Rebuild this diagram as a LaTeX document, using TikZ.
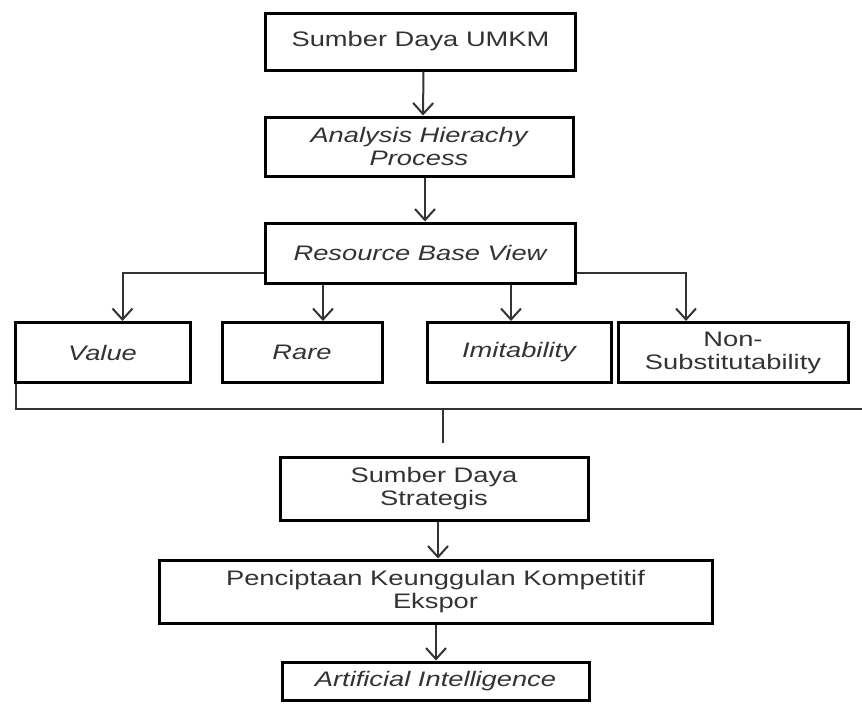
\documentclass[tikz,border=0pt]{standalone}
\usepackage{fontspec}
\setmainfont{Liberation Sans}[FakeStretch=1.3]
\usetikzlibrary{arrows.meta}
\tikzset{
  box/.style={draw=black, line width=3pt, fill=white, inner sep=0pt, align=center,
    text=black!80, font=\fontsize{21}{23}\selectfont},
  it/.style={font=\fontsize{21}{23}\selectfont\itshape},
  conn/.style={draw=black!80, line width=2pt},
  arr/.style={conn, -{Straight Barb[length=11pt, width=20pt, line width=2pt]}}
}
\begin{document}
\begin{tikzpicture}[x=1pt, y=-1pt]
\useasboundingbox (0,0) rectangle (862,704);
\node[box, minimum width=310pt, minimum height=57pt] (n1) at (420.5,41.5) {Sumber Daya UMKM};
\node[box, it, minimum width=308pt, minimum height=59pt] (n2) at (419,146.5) {Analysis Hierachy\\Process};
\node[box, it, minimum width=310pt, minimum height=60pt] (n3) at (420,253) {Resource Base View};
\node[box, it, minimum width=175pt, minimum height=60pt] (v) at (102.5,352.5) {Value};
\node[box, it, minimum width=160pt, minimum height=60pt] (r) at (302,352.5) {Rare};
\node[box, it, minimum width=184pt, minimum height=60pt] (i) at (519,352.5) {Imitability};
\node[box, minimum width=230pt, minimum height=60pt] (ns) at (733,352.5) {Non-\\Substitutability};
\node[box, minimum width=308pt, minimum height=63pt] (s) at (434,488.5) {Sumber Daya\\Strategis};
\node[box, minimum width=553pt, minimum height=63pt] (p) at (435.5,591.5) {Penciptaan Keunggulan Kompetitif\\Ekspor};
\node[box, it, minimum width=307pt, minimum height=38pt] (ai) at (435.5,681) {Artificial Intelligence};

\draw[arr] ([xshift=3pt]n1.south) -- ([xshift=4pt]n2.north);
\draw[arr] ([xshift=6pt]n2.south) -- ([xshift=5pt]n3.north);
\draw[arr] ([yshift=-20pt]n3.west) -| ([xshift=20pt]v.north);
\draw[arr] ([yshift=-20pt]n3.east) -| ([xshift=-47pt]ns.north);
\draw[arr] ([xshift=21pt]r.north |- n3.south) -- ([xshift=21pt]r.north);
\draw[arr] ([xshift=-8pt]i.north |- n3.south) -- ([xshift=-8pt]i.north);

\coordinate (re) at (862,409);
\coordinate (jt) at (443,409);
\coordinate (jb) at (443,443);
\draw[conn] ([xshift=2pt]v.south west) |- (re);
\draw[conn] (jt) -- (jb);

\draw[arr] ([xshift=4pt]s.south) -- ([xshift=2.5pt]p.north);
\draw[arr] ([xshift=0.5pt]p.south) -- ([xshift=0.5pt]ai.north);
\end{tikzpicture}
\end{document}
